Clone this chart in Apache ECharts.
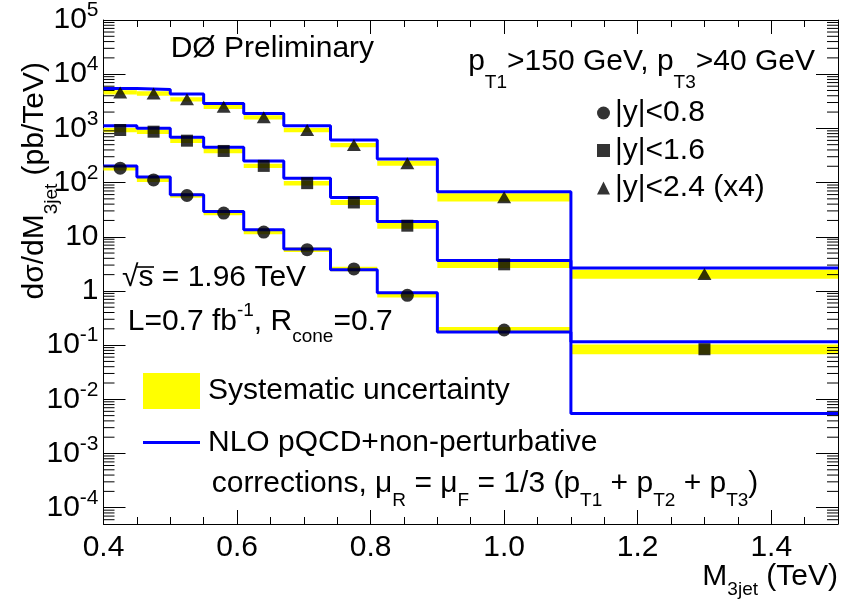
<!DOCTYPE html>
<html><head><meta charset="utf-8">
<script src="https://cdn.jsdelivr.net/npm/echarts@6/dist/echarts.min.js"></script>
<style>html,body{margin:0;padding:0;background:#fff}#c{width:844px;height:600px}</style>
</head><body><div id="c"></div>
<script>
// ---- data ----
const binEdges   = [0.40, 0.45, 0.50, 0.55, 0.61, 0.67, 0.74, 0.81, 0.90, 1.10, 1.50];
const binCenters = [0.425, 0.475, 0.525, 0.58, 0.64, 0.705, 0.775, 0.855, 1.0, 1.3];

// |y|<0.8
const nloY08   = [203, 126, 59.3, 29.2, 13.4, 5.94, 2.47, 0.93, 0.175, 0.0055];
const dataY08  = [184, 112, 57.7, 27.4, 12.2, 5.77, 2.55, 0.83, 0.19, null];
const sysLoY08 = [167, 102, 52.5, 24.9, 11.1, 5.25, 2.30, 0.76, 0.168, null];
const sysHiY08 = [201, 122, 63.0, 30.0, 13.3, 6.30, 2.80, 0.95, 0.215, null];
// |y|<1.6
const nloY16   = [1119, 1002, 685, 448, 251, 120, 53.0, 19.1, 3.66, 0.115];
const dataY16  = [933, 869, 593, 383, 203, 97.5, 42.9, 16.0, 3.10, 0.084];
const sysLoY16 = [850, 790, 540, 348, 185, 88.7, 38.6, 14.1, 2.65, 0.068];
const sysHiY16 = [1020, 950, 648, 418, 222, 107, 47.5, 18.2, 3.69, 0.103];
// |y|<2.4 (x4)
const nloY24   = [5460, 5240, 4290, 2890, 1890, 1120, 611, 273, 67.4, 2.65];
const dataY24  = [4610, 4420, 3430, 2500, 1600, 933, 494, 228, 53.8, 2.06];
const sysLoY24 = [4200, 4020, 3120, 2280, 1460, 850, 450, 205, 44.7, 1.67];
const sysHiY24 = [5030, 4820, 3740, 2730, 1750, 1020, 540, 253, 63.8, 2.47];

const xTickLabels = ['0.4', '0.6', '0.8', '1.0', '1.2', '1.4'];
const yDecades = [-4, -3, -2, -1, 0, 1, 2, 3, 4, 5];
const seriesNames = ['|y|<0.8', '|y|<1.6', '|y|<2.4 (x4)'];

// ---- helpers ----
const FONT = "'Liberation Sans', Arial, Helvetica, sans-serif";
const xMin = 0.4, xMax = 1.5, yMin = 5e-5, yMax = 1e5;

const yMinorVals = [];
for (let e = -5; e <= 4; e++) for (let k = 2; k <= 9; k++) {
  const v = k * Math.pow(10, e);
  if (v > yMin && v < yMax) yMinorVals.push(v);
}

function bandData(lo, hi) {
  const out = [];
  for (let i = 0; i < lo.length; i++) if (lo[i] != null) out.push([binEdges[i], binEdges[i + 1], lo[i], hi[i]]);
  return out;
}
function stepData(nlo) {
  return binEdges.map((e, i) => [e, nlo[Math.min(i, nlo.length - 1)]]);
}
function pointData(d) {
  const out = [];
  for (let i = 0; i < d.length; i++) if (d[i] != null) out.push([binCenters[i], d[i]]);
  return out;
}

const bandSeries = (lo, hi) => ({
  type: 'custom', name: 'Systematic uncertainty', coordinateSystem: 'cartesian2d',
  xAxisIndex: 0, yAxisIndex: 0, z: 2, silent: true,
  itemStyle: { color: '#ffff00' },
  encode: { x: [0, 1], y: [2, 3] },
  data: bandData(lo, hi),
  renderItem: (params, api) => {
    const p0 = api.coord([api.value(0), api.value(3)]);
    const p1 = api.coord([api.value(1), api.value(2)]);
    return { type: 'rect', shape: { x: p0[0], y: p0[1], width: p1[0] - p0[0], height: p1[1] - p0[1] },
             style: { fill: '#ffff00' } };
  }
});
const lineSeries = (nlo) => ({
  type: 'line', name: 'NLO pQCD+non-perturbative', xAxisIndex: 0, yAxisIndex: 0,
  step: 'end', symbol: 'none', z: 3, silent: true,
  itemStyle: { color: '#0000ff' },
  lineStyle: { color: '#0000ff', width: 3 },
  data: stepData(nlo)
});
const pointSeries = (name, d, symbol, size) => ({
  type: 'scatter', name, xAxisIndex: 0, yAxisIndex: 0, z: 4, silent: true,
  symbol, symbolSize: size, itemStyle: { color: '#000' },
  data: pointData(d)
});

const supLabel = (v) => {
  const e = Math.log10(v);
  const r = Math.round(e);
  if (Math.abs(e - r) > 1e-6) return '';
  if (r === 0) return '{m|1}';
  if (r === 1) return '{m|10}';
  return '{m|10}{u|' + r + '}';
};

// rich text styles: main text + sub/superscripts shifted by top padding
const tok = (size, padTop) => ({ fontSize: size, fontFamily: FONT, color: '#000', verticalAlign: 'top', padding: [padTop, 0, 0, 0] });

const tickAxisBase = {
  type: 'value', min: xMin, max: xMax, gridIndex: 0,
  splitLine: { show: false }, axisLabel: { show: false }
};

const option = {
  animation: false,
  backgroundColor: '#fff',
  grid: { left: 103.5, right: 6, top: 20, bottom: 76, containLabel: false },
  xAxis: [
    { ...tickAxisBase, position: 'bottom', interval: 0.2,
      axisLine: { show: true, onZero: false, lineStyle: { color: '#000', width: 1 } },
      axisTick: { show: true, inside: true, length: 14, lineStyle: { color: '#000' } },
      axisLabel: { show: true, interval: 0, margin: 9, color: '#000', fontFamily: FONT, fontSize: 30,
        formatter: (v) => { const s = v.toFixed(1); return xTickLabels.includes(s) ? s : ''; } } },
    { ...tickAxisBase, position: 'bottom', interval: 0.05,
      axisLine: { show: false, onZero: false },
      axisTick: { show: true, inside: true, length: 7, lineStyle: { color: '#000' } } },
    { ...tickAxisBase, position: 'top', interval: 0.2,
      axisLine: { show: true, onZero: false, lineStyle: { color: '#000', width: 1 } },
      axisTick: { show: true, inside: true, length: 14, lineStyle: { color: '#000' } } },
    { ...tickAxisBase, position: 'top', interval: 0.05,
      axisLine: { show: false, onZero: false },
      axisTick: { show: true, inside: true, length: 7, lineStyle: { color: '#000' } } }
  ],
  yAxis: [
    { type: 'log', logBase: 10, min: yMin, max: yMax, splitNumber: 9, position: 'left',
      splitLine: { show: false },
      axisLine: { show: true, onZero: false, lineStyle: { color: '#000', width: 1 } },
      axisTick: { show: true, inside: true, length: 22, lineStyle: { color: '#000' } },
      axisLabel: { show: true, interval: 0, margin: 5, color: '#000', fontFamily: FONT,
        formatter: supLabel,
        rich: {
          m: { fontSize: 30, fontFamily: FONT, color: '#000', lineHeight: 40, verticalAlign: 'top', padding: [5, 0, 0, 0] },
          u: { fontSize: 21, fontFamily: FONT, color: '#000', lineHeight: 40, verticalAlign: 'top', padding: [0, 0, 0, 0] }
        } } },
    { type: 'log', logBase: 10, min: yMin, max: yMax, splitNumber: 9, position: 'right',
      splitLine: { show: false },
      axisLine: { show: true, onZero: false, lineStyle: { color: '#000', width: 1 } },
      axisTick: { show: true, inside: true, length: 22, lineStyle: { color: '#000' } },
      axisLabel: { show: false } }
  ],
  legend: [
    { data: seriesNames, orient: 'vertical', left: 597, top: 98, padding: 0,
      itemWidth: 13, itemHeight: 13, itemGap: 7.5, selectedMode: false,
      textStyle: { fontSize: 30, fontFamily: FONT, color: '#000', lineHeight: 30 } },
    { data: [{ name: 'Systematic uncertainty', icon: 'rect' },
             { name: 'NLO pQCD+non-perturbative', icon: 'path://M0,0H19V1H0Z' }],
      orient: 'vertical', left: 143, top: 373, padding: 0, symbolKeepAspect: true,
      itemWidth: 57, itemHeight: 36, itemGap: 15.5, selectedMode: false,
      textStyle: { fontSize: 30, fontFamily: FONT, color: '#000', lineHeight: 36, padding: [0, 0, 0, 3] } }
  ],
  graphic: [
    { type: 'text', x: 170.7, y: 48.5, z: 100, silent: true,
      style: { text: 'DØ Preliminary', font: '30px ' + FONT, fill: '#000', textAlign: 'left', textVerticalAlign: 'middle', align: 'left', verticalAlign: 'middle' } },
    { type: 'text', x: 815, y: 46.6, z: 100, silent: true,
      style: { text: '{n|p}{s|T1}{n|>150 GeV, p}{s|T3}{n|>40 GeV}', fill: '#000',
        textAlign: 'right', align: 'right', textVerticalAlign: 'top', verticalAlign: 'top',
        rich: { n: tok(30, 0), s: tok(19, 26.4) } } },
    { type: 'text', x: 122, y: 277.6, z: 100, silent: true,
      style: { text: '√s = 1.96 TeV', font: '30px ' + FONT, fill: '#000', textAlign: 'left', align: 'left', textVerticalAlign: 'middle', verticalAlign: 'middle' } },
    { type: 'line', z: 100, silent: true, shape: { x1: 137, y1: 267, x2: 154, y2: 267 },
      style: { stroke: '#000', lineWidth: 1.6 } },
    { type: 'text', x: 127.7, y: 300.3, z: 100, silent: true,
      style: { text: '{n|L=0.7 fb}{u|-1}{n|, R}{s|cone}{n|=0.7}', fill: '#000',
        textAlign: 'left', align: 'left', textVerticalAlign: 'top', verticalAlign: 'top',
        rich: { n: tok(30, 6), u: tok(19, 1.2), s: tok(19, 26.6) } } },
    { type: 'text', x: 211.7, y: 468.6, z: 100, silent: true,
      style: { text: '{n|corrections, μ}{s|R}{n| = μ}{s|F}{n| = 1/3 (p}{s|T1}{n| + p}{s|T2}{n| + p}{s|T3}{n|)}', fill: '#000',
        textAlign: 'left', align: 'left', textVerticalAlign: 'top', verticalAlign: 'top',
        rich: { n: tok(30, 0), s: tok(19, 22.9) } } },
    { type: 'text', x: 838, y: 561.6, z: 100, silent: true,
      style: { text: '{n|M}{s|3jet}{n| (TeV)}', fill: '#000',
        textAlign: 'right', align: 'right', textVerticalAlign: 'top', verticalAlign: 'top',
        rich: { n: tok(30, 0), s: tok(19, 18.5) } } },
    { type: 'text', x: 20, y: 62, rotation: Math.PI / 2, z: 100, silent: true,
      style: { text: '{n|dσ/dM}{s|3jet}{n| (pb/TeV)}', fill: '#000',
        textAlign: 'right', align: 'right', textVerticalAlign: 'top', verticalAlign: 'top',
        rich: { n: tok(30, 0), s: tok(19, 21.9) } } }
  ],
  series: [
    bandSeries(sysLoY08, sysHiY08),
    bandSeries(sysLoY16, sysHiY16),
    bandSeries(sysLoY24, sysHiY24),
    lineSeries(nloY08),
    lineSeries(nloY16),
    lineSeries(nloY24),
    pointSeries(seriesNames[0], dataY08, 'circle', 13),
    pointSeries(seriesNames[1], dataY16, 'rect', 12),
    pointSeries(seriesNames[2], dataY24, 'triangle', [14, 12]),
    { type: 'custom', name: 'yMinorTicks', coordinateSystem: 'cartesian2d', xAxisIndex: 0, yAxisIndex: 0,
      z: 10, silent: true, clip: false, encode: { x: 0, y: 1 },
      data: yMinorVals.map(v => [xMin, v]),
      renderItem: (params, api) => {
        const p = api.coord([xMin, api.value(1)]);
        const q = api.coord([xMax, api.value(1)]);
        return { type: 'group', children: [
          { type: 'line', shape: { x1: p[0], y1: p[1], x2: p[0] + 11, y2: p[1] }, style: { stroke: '#000', lineWidth: 1 } },
          { type: 'line', shape: { x1: q[0] - 11, y1: q[1], x2: q[0], y2: q[1] }, style: { stroke: '#000', lineWidth: 1 } }
        ] };
      } }
  ]
};

const chart = echarts.init(document.getElementById('c'), null, { renderer: 'canvas' });
chart.setOption(option);
</script>
</body></html>
